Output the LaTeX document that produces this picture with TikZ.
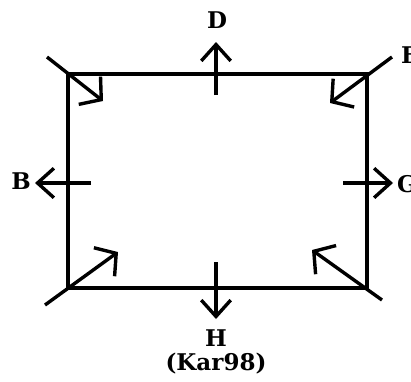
\documentclass[tikz,border=0pt]{standalone}
\usepackage{fontspec}
\setmainfont{DejaVu Serif}
\usetikzlibrary{arrows.meta}
\begin{document}
\begin{tikzpicture}[x=1pt,y=-1pt,
  ln/.style={line width=3.4pt,line cap=butt},
  arr/.style={ln,-{Straight Barb[angle=84:22pt,line width=3.4pt]}},
  carr/.style={ln,-{Straight Barb[angle=100:23pt,line width=3.4pt]}},
  lab/.style={inner sep=0pt,font=\fontsize{23}{28}\selectfont\bfseries}]
\useasboundingbox (0,0) rectangle (411,381);
\clip (0,0) rectangle (411,381);
% rectangle corners
\coordinate (tl) at (68,74);
\coordinate (tr) at (367,74);
\coordinate (br) at (367,288);
\coordinate (bl) at (68,288);
\draw[ln,line join=miter] (tl) -- (tr) -- (br) -- (bl) -- cycle;
% labels
\node[lab] (D) at (217,20) {D};
\node[lab] (B) at (21,181) {B};
\node[lab,anchor=west] (F) at (401,55) {F};
\node[lab,anchor=west] (G) at (397,184) {G};
\node[lab] (H) at (216,338) {H};
\node[lab] (K) at (216,364) {(Kar98)};
% side arrows
\coordinate (d0) at (216,95);  \coordinate (d1) at (216,42);
\coordinate (b0) at (91,183);  \coordinate (b1) at (35,183);
\coordinate (g0) at (343,183); \coordinate (g1) at (393,183);
\coordinate (h0) at (216,262); \coordinate (h1) at (216,319);
\draw[arr] (d0) -- (d1);
\draw[arr] (b0) -- (b1);
\draw[arr] (g0) -- (g1);
\draw[arr] (h0) -- (h1);
% corner arrows
\coordinate (c1s) at (47,57);   \coordinate (c1e) at (103,101);
\coordinate (c2s) at (392,57);  \coordinate (c2e) at (330,103);
\coordinate (c3s) at (45,305);  \coordinate (c3e) at (118,252);
\coordinate (c4s) at (382,300); \coordinate (c4e) at (312,250);
\draw[carr] (c1s) -- (c1e);
\draw[carr] (c2s) -- (c2e);
\draw[carr] (c3s) -- (c3e);
\draw[carr] (c4s) -- (c4e);
\end{tikzpicture}
\end{document}
